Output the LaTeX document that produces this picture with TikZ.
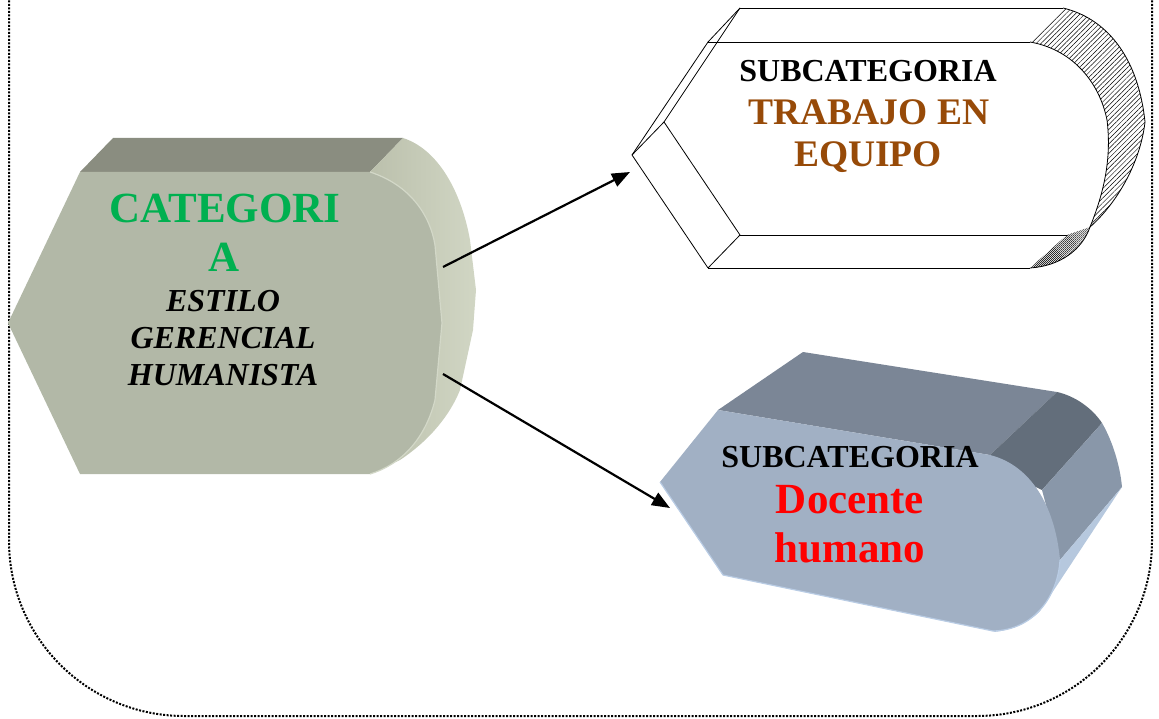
\documentclass[tikz,border=0pt]{standalone}
\usepackage{fontspec}
\setmainfont{Liberation Serif}
\usetikzlibrary{arrows.meta,patterns.meta}

\definecolor{catfront}{HTML}{B2B8A7}
\definecolor{cattop}{HTML}{8A8D80}
\definecolor{catsideA}{HTML}{BBC0AC}
\definecolor{catsideB}{HTML}{D1D6C4}
\definecolor{catedge}{HTML}{D3D8C8}
\definecolor{catgreen}{HTML}{00B050}
\definecolor{trbrown}{HTML}{974A08}
\definecolor{docfront}{HTML}{A1B0C4}
\definecolor{doctop}{HTML}{7B8696}
\definecolor{docdark}{HTML}{636E7B}
\definecolor{docmid}{HTML}{8997A9}
\definecolor{doclight}{HTML}{B6C8DE}
\definecolor{docedge}{HTML}{B9CCE4}

\tikzset{
  frame/.style={line width=2pt, dash pattern=on 2pt off 1.5pt, rounded corners=175pt},
  outline/.style={draw=black, line width=0.8pt, line join=round},
  conn/.style={line width=2.2pt, -{Triangle[length=18pt,width=14pt]}},
  txt/.style={anchor=base, inner sep=0pt, align=center},
  subcat/.style={txt, font=\bfseries\fontsize{32}{38}\selectfont},
}

\begin{document}
\begin{tikzpicture}[x=1pt,y=-1pt]
\useasboundingbox (0,0) rectangle (1159,719);

% dotted frame, open at the top
\draw[frame] (9,-10) -- (9,716) -- (1152,716) -- (1152,-10);

% ---------- category block ----------
\fill[cattop] (80,172) -- (113,138) -- (403,138) -- (370,172) -- cycle;
\shade[left color=catsideA, right color=catsideB]
  (370,172) -- (403,138) .. controls (440,150) and (462,195) .. (470,240)
  -- (476,290) -- (473,330) -- (460,390)
  .. controls (450,415) and (430,440) .. (400,460) -- (370,474) -- cycle;
\fill[catfront] (80,172) -- (370,172) .. controls (410,185) and (430,215) .. (435,245)
  -- (442,323) -- (435,400) .. controls (425,440) and (400,465) .. (370,474)
  -- (80,474) -- (8,323) -- cycle;
\draw[catedge, line width=1.2pt] (370,172) .. controls (410,185) and (430,215) .. (435,245)
  -- (442,323) -- (435,400) .. controls (425,440) and (400,465) .. (370,474);

\node[txt, text=catgreen, font=\bfseries\fontsize{43}{50}\selectfont] (catA) at (225,223) {CATEGORI};
\node[txt, text=catgreen, font=\bfseries\fontsize{43}{50}\selectfont] (catB) at (224,272) {A};
\node[txt, font=\bfseries\itshape\fontsize{32}{36}\selectfont] (est1) at (223,312) {ESTILO};
\node[txt, font=\bfseries\itshape\fontsize{32}{36}\selectfont] (est2) at (223,348) {GERENCIAL};
\node[txt, font=\bfseries\itshape\fontsize{32}{36}\selectfont] (est3) at (223,385) {HUMANISTA};

% ---------- upper subcategory block (outlined, hatched end) ----------
\coordinate (B1) at (740,8);
\coordinate (B2) at (1063,8);
\coordinate (F1) at (708,42);
\coordinate (F2) at (1030,42);
\coordinate (BL) at (664,122);
\coordinate (FL) at (632,155);
\coordinate (B3) at (740,235);
\coordinate (B4) at (1067,235);
\coordinate (F3) at (708,268);
\coordinate (F4) at (1030,268);
\coordinate (PJ) at (1090,227);

\fill[white] (B1) -- (B2) .. controls (1105,18) and (1138,55) .. (1145,122)
  .. controls (1140,165) and (1115,205) .. (PJ)
  .. controls (1082,250) and (1060,266) .. (F4) -- (F3) -- (FL) -- (BL) -- cycle;

% hatched rounded end
\path[pattern={Lines[angle=45,distance=3.4pt,line width=0.5pt]}]
  (F2) -- (B2) .. controls (1105,18) and (1138,55) .. (1145,122)
  .. controls (1140,165) and (1115,205) .. (PJ)
  .. controls (1103,195) and (1112,160) .. (1107,120)
  .. controls (1100,85) and (1075,50) .. (F2) -- cycle;
\path[pattern={Lines[angle=45,distance=1.4pt,line width=0.5pt]}]
  (F4) -- (B4) -- (PJ) .. controls (1082,250) and (1060,266) .. (F4) -- cycle;

\draw[outline] (B2) .. controls (1105,18) and (1138,55) .. (1145,122)
  .. controls (1140,165) and (1115,205) .. (PJ);
\draw[outline] (F2) .. controls (1075,50) and (1100,85) .. (1107,120)
  .. controls (1112,160) and (1103,195) .. (PJ);
\draw[outline] (PJ) .. controls (1082,250) and (1060,266) .. (F4);
\draw[outline] (B1) -- (B2);
\draw[outline] (F1) -- (F2);
\draw[outline] (B1) -- (F1);
\draw[outline] (B1) -- (BL);
\draw[outline] (F1) -- (FL);
\draw[outline] (BL) -- (FL);
\draw[outline] (BL) -- (B3);
\draw[outline] (FL) -- (F3);
\draw[outline] (B3) -- (F3);
\draw[outline] (B3) -- (B4);
\draw[outline] (F3) -- (F4);

\node[subcat] (sub1) at (868,82) {SUBCATEGORIA};
\node[txt, text=trbrown, font=\bfseries\fontsize{37.5}{44}\selectfont] (tr1) at (869,125) {TRABAJO EN};
\node[txt, text=trbrown, font=\bfseries\fontsize{37.5}{44}\selectfont] (tr2) at (868,167) {EQUIPO};

% ---------- lower subcategory block (blue-grey solid) ----------
\fill[doctop] (718,410) -- (803,352) -- (1057,392) -- (990,455) -- cycle;
% side facets
\fill[docdark] (990,455) -- (1057,392) .. controls (1075,396) and (1092,408) .. (1102,423)
  -- (1042,490) -- (1000,470) -- cycle;
\fill[docmid] (1042,490) -- (1102,423) .. controls (1112,440) and (1120,465) .. (1122,487)
  -- (1060,560) -- (1050,520) -- cycle;
\fill[doclight] (1060,560) -- (1122,487) -- (1040,611)
  .. controls (1030,622) and (1010,631) .. (993,632) -- (1020,620) -- cycle;
% front face
\fill[docfront] (718,410) -- (990,455) .. controls (1030,465) and (1055,505) .. (1060,560)
  .. controls (1058,595) and (1035,630) .. (993,631) -- (723,575) -- (660,482) -- cycle;
\draw[docedge, line width=1.2pt, line join=round] (660,482) -- (723,575) -- (993,631)
  .. controls (1035,630) and (1058,595) .. (1060,560);

\node[subcat] (sub2) at (850,467) {SUBCATEGORIA};
\node[txt, text=red, font=\bfseries\fontsize{43}{50}\selectfont] (doc1) at (850,513) {Docente};
\node[txt, text=red, font=\bfseries\fontsize{43}{50}\selectfont] (doc2) at (850,562) {humano};

% ---------- connectors ----------
\coordinate (c1) at (443,267);
\coordinate (t1) at (630,172);
\coordinate (c2) at (443,374);
\coordinate (t2) at (670,508);
\draw[conn] (c1) -- (t1);
\draw[conn] (c2) -- (t2);

\end{tikzpicture}
\end{document}
